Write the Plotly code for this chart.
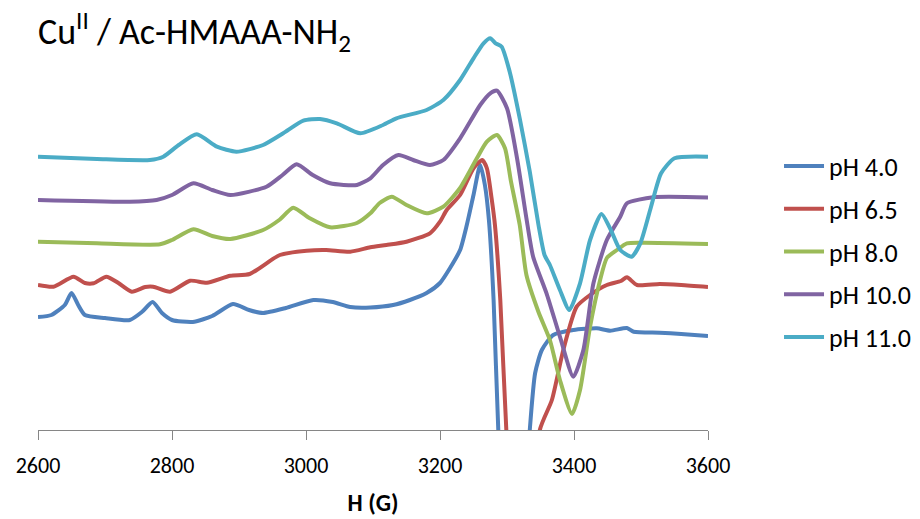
import plotly.graph_objects as go

# Field (G) and intensity (arbitrary units, offset spectra)
h_ph40 = [2600, 2620, 2640, 2650, 2660, 2670, 2700, 2737, 2755, 2771, 2785, 2800, 2831, 2860, 2891, 2915,
          2936, 2970, 3011, 3040, 3066, 3096, 3130, 3155, 3180, 3200, 3215, 3230, 3240, 3250, 3260, 3267,
          3273, 3280, 3287, 3300, 3320, 3334, 3342, 3352, 3369, 3399, 3434, 3454, 3479, 3489, 3528, 3560, 3600]
i_ph40 = [113, 115, 125, 137, 125, 115, 112, 110, 118, 128, 117, 110, 108, 114, 126, 120,
          117, 122, 130, 128, 123, 122.5, 125, 130, 137, 147, 162, 180, 205, 235, 265, 245,
          210, 130, 0, -150, -150, 0, 57, 80, 95, 100, 101.7, 99.3, 102, 98.3, 97.3, 96, 94]

h_ph65 = [2600, 2623, 2653, 2670, 2683, 2702, 2720, 2740, 2760, 2772, 2797, 2827, 2852, 2887, 2916, 2961,
          3001, 3030, 3066, 3096, 3120, 3150, 3185, 3200, 3210, 3230, 3250, 3263, 3270, 3277, 3282, 3290,
          3299, 3315, 3335, 3349, 3367, 3384, 3404, 3424, 3449, 3470, 3479, 3494, 3528, 3560, 3600]
i_ph65 = [145, 143.3, 153.3, 147, 146.7, 153.3, 147, 138.3, 143, 143.3, 138.3, 149.3, 147.3, 154.3, 156, 175,
          179.3, 180, 178.3, 182.7, 185, 188.3, 196.7, 208.3, 220, 235, 261.7, 270, 261.7, 231.7, 205, 130,
          0, -150, -150, 0, 30, 80, 123.3, 135, 145, 149, 152.7, 145, 146, 145, 143]

h_ph80 = [2600, 2688, 2782, 2800, 2832, 2860, 2887, 2936, 2960, 2981, 3005, 3036, 3076, 3096, 3110, 3128,
          3150, 3180, 3205, 3230, 3255, 3270, 3285, 3297, 3306, 3319, 3329, 3347, 3364, 3379, 3397, 3409,
          3424, 3439, 3449, 3464, 3479, 3504, 3600]
i_ph80 = [188.3, 186.7, 185.7, 190, 200.7, 194, 191, 200, 210, 222.3, 212, 202.7, 207, 216.7, 227, 233.3,
          225, 216.7, 223.3, 242, 271.7, 288.3, 295, 281.7, 248.3, 205, 155, 118, 90, 50, 16, 40,
          103.3, 150, 172, 180, 186.7, 187.3, 186]

h_ph100 = [2600, 2737, 2777, 2800, 2832, 2860, 2887, 2941, 2965, 2986, 3010, 3036, 3076, 3096, 3115, 3138,
           3160, 3185, 3205, 3230, 3260, 3275, 3285, 3300, 3315, 3329, 3339, 3359, 3379, 3399, 3414, 3429,
           3449, 3469, 3479, 3518, 3600]
i_ph100 = [230, 228.3, 230, 235, 246.7, 240, 235, 243.3, 255, 265.7, 255, 246.7, 245, 251.7, 265, 275,
           270, 265, 270, 291.7, 325, 336.7, 339.3, 321.7, 271.7, 211.7, 173.3, 136.7, 93.3, 53.3, 80, 146.7,
           190, 213.3, 226.7, 232.7, 232.5]

h_ph110 = [2600, 2688, 2767, 2787, 2810, 2837, 2867, 2896, 2936, 2966, 2996, 3021, 3046, 3081, 3115, 3135,
           3180, 3205, 3230, 3250, 3265, 3275, 3283, 3292, 3304, 3319, 3334, 3347, 3356, 3364, 3379, 3393,
           3409, 3424, 3441, 3455, 3469, 3486, 3499, 3515, 3530, 3550, 3600]
i_ph110 = [273.3, 271, 270, 273.3, 285, 295.7, 283.3, 278.3, 285, 296.7, 309.3, 311, 306.7, 296.7, 305, 311.7,
           320, 330, 350, 371.7, 386.7, 391.7, 386.7, 383.3, 358.3, 311.7, 258.3, 205, 175, 165, 140, 120,
           146.7, 190, 216, 200, 180, 173.3, 186.7, 223.3, 256.7, 271.7, 273.3]

series_names = ["pH 4.0", "pH 6.5", "pH 8.0", "pH 10.0", "pH 11.0"]
series_h = [h_ph40, h_ph65, h_ph80, h_ph100, h_ph110]
series_i = [i_ph40, i_ph65, i_ph80, i_ph100, i_ph110]
colors = ["#4F81BD", "#C0504D", "#9BBB59", "#8064A2", "#4BACC6"]
x_ticks = [2600, 2800, 3000, 3200, 3400, 3600]

FONT = "Carlito, Calibri, 'Open Sans', 'Liberation Sans', sans-serif"

fig = go.Figure()
for k, (name, hx, iy, c) in enumerate(zip(series_names, series_h, series_i, colors)):
    fig.add_trace(go.Scatter(
        x=hx, y=iy, mode="lines", name=name, legendgroup=name,
        line=dict(color=c, width=4, shape="spline", smoothing=0.6),
    ))

fig.update_layout(
    width=920, height=519,
    margin=dict(l=38, r=212, t=30, b=89, autoexpand=False),
    paper_bgcolor="white", plot_bgcolor="white",
    font=dict(family=FONT, color="#000000"),
    showlegend=True,
    legend=dict(
        x=1.106, y=0.445, xanchor="left", yanchor="middle",
        font=dict(size=26, family=FONT, color="#000000"),
        tracegroupgap=6, itemwidth=40,
        bgcolor="rgba(0,0,0,0)",
    ),
    xaxis=dict(
        range=[2600, 3600], tickvals=x_ticks, ticktext=[str(t) for t in x_ticks],
        showgrid=False, zeroline=False, showline=True, linecolor="#868686", linewidth=1,
        ticks="outside", ticklen=9, tickcolor="#868686", tickwidth=1,
        tickfont=dict(size=22, family=FONT, color="#000000"),
        ticklabelstandoff=7,
        title=dict(text="<b>H (G)</b>", font=dict(size=24, family=FONT, color="#000000"), standoff=15),
    ),
    yaxis=dict(
        range=[0, 400], visible=False, showgrid=False, zeroline=False,
    ),
    annotations=[dict(
        text="Cu<sup>II</sup> / Ac-HMAAA-NH<sub>2</sub>",
        xref="paper", yref="paper", x=-0.003, y=(430 - 32) / 400.0,
        xanchor="left", yanchor="middle", showarrow=False,
        font=dict(size=36, family=FONT, color="#000000"),
    )],
)

fig.write_html("out.html")
